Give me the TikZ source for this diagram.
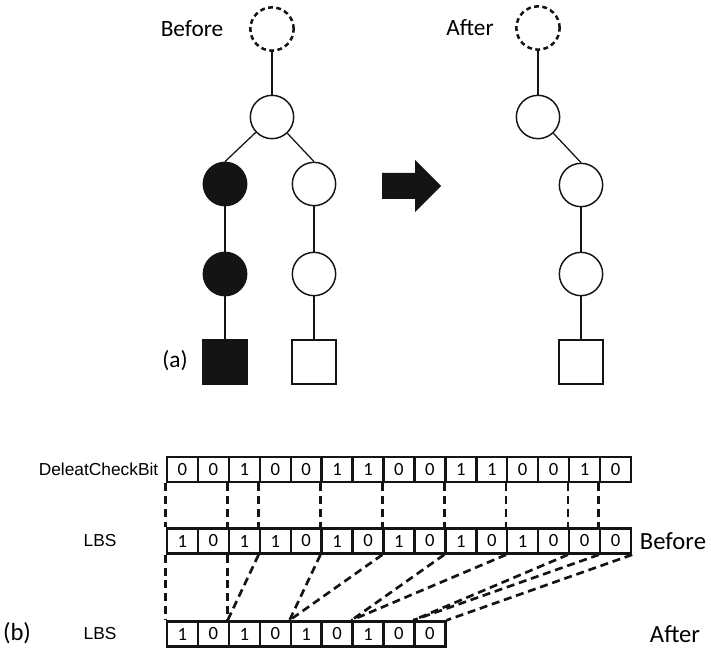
\documentclass[tikz,border=0pt]{standalone}
\usepackage{fontspec}
\setmainfont{Carlito}
\newfontfamily\arialfont{Liberation Sans}
\definecolor{ink}{RGB}{20,20,20}
\tikzset{
  vtx/.style={circle,draw=ink,line width=1.1pt,fill=white,minimum size=32.5pt,inner sep=0pt},
  ghost/.style={vtx,dash pattern=on 3.6pt off 2.6pt,line width=1.9pt},
  gone/.style={vtx,fill=ink},
  leaf/.style={rectangle,draw=ink,line width=1.1pt,fill=white,minimum size=33pt,inner sep=0pt},
  goneleaf/.style={leaf,fill=ink},
  edge/.style={draw=ink,line width=0.95pt},
  cell/.style={rectangle,draw=ink,line width=1.8pt,minimum width=23.2pt,minimum height=18.8pt,inner sep=0pt,font=\fontsize{14}{16}\selectfont},
  link/.style={draw=ink,line width=2pt,dash pattern=on 6pt off 3.6pt},
  tag/.style={font=\fontsize{17.5}{20}\selectfont},
  rowname/.style={font=\arialfont\fontsize{13}{15}\selectfont}
}

\begin{document}
\begin{tikzpicture}[x=0.75pt,y=-0.75pt]
  \useasboundingbox (0,0) rectangle (711,649);

  % (a) before
  \node[ghost] (broot) at (272,29) {};
  \node[vtx] (bn) at (272,117) {};
  \node[gone] (bl1) at (225,184) {};
  \node[gone] (bl2) at (225,274) {};
  \node[goneleaf] (bleaf) at (225,362) {};
  \node[vtx] (br1) at (314,184) {};
  \node[vtx] (br2) at (314,274) {};
  \node[leaf] (bleafr) at (314,362) {};
  \draw[edge] (broot) -- (bn);
  \draw[edge] (bn) -- (bl1.north);
  \draw[edge] (bn) -- (br1.north);
  \draw[edge] (bl1) -- (bl2);
  \draw[edge] (bl2) -- (bleaf);
  \draw[edge] (br1) -- (br2);
  \draw[edge] (br2) -- (bleafr);
  \node[tag] (lbefore) at (192,29) {Before};
  \node[tag] (la) at (175,361) {(a)};

  \fill[ink] (382,173) -- (415,173) -- (415,160) -- (441,186) -- (415,212) -- (415,199) -- (382,199) -- cycle;

  % (a) after
  \node[ghost] (aroot) at (538,28) {};
  \node[vtx] (an) at (538,117) {};
  \node[vtx] (a1) at (581,185) {};
  \node[vtx] (a2) at (581,274) {};
  \node[leaf] (aleaf) at (581,362) {};
  \draw[edge] (aroot) -- (an);
  \draw[edge] (an) -- (a1.north);
  \draw[edge] (a1) -- (a2);
  \draw[edge] (a2) -- (aleaf);
  \node[tag] (lafter) at (470,28) {After};

  % (b) bit strings
  \foreach \v [count=\i from 0] in {0,0,1,0,0,1,1,0,0,1,1,0,0,1,0}
    \node[cell] (chk\i) at ({167+30.93*(\i+0.5)},469.5) {\v};
  \foreach \v [count=\i from 0] in {1,0,1,1,0,1,0,1,0,1,0,1,0,0,0}
    \node[cell] (old\i) at ({167+30.93*(\i+0.5)},541) {\v};
  \foreach \v [count=\i from 0] in {1,0,1,0,1,0,1,0,0}
    \node[cell] (new\i) at ({167+30.93*(\i+0.5)},634) {\v};

  \node[rowname,anchor=east] (nchk) at (163,469.5) {DeleatCheckBit};
  \node[rowname] (nold) at (100,541) {LBS};
  \node[rowname] (nnew) at (100,634) {LBS};
  \node[tag,font=\fontsize{18.5}{21}\selectfont] (lold) at (673,541) {Before};
  \node[tag,font=\fontsize{18.5}{21}\selectfont] (lnew) at (675,634) {After};
  \node[tag,font=\fontsize{18.5}{21}\selectfont] (lb) at (17,633) {(b)};

  \foreach \k in {0,2,3,5,7,9,11,13,14}
    \draw[link] (chk\k.south west) -- (old\k.north west);
  \foreach \k/\m in {0/0,2/2,3/2,5/4,7/4,9/6,11/6,13/8,14/8}
    \draw[link] (old\k.south west) -- (new\m.north west);
  \draw[link] (old14.south east) -- (new8.north east);
\end{tikzpicture}
\end{document}
